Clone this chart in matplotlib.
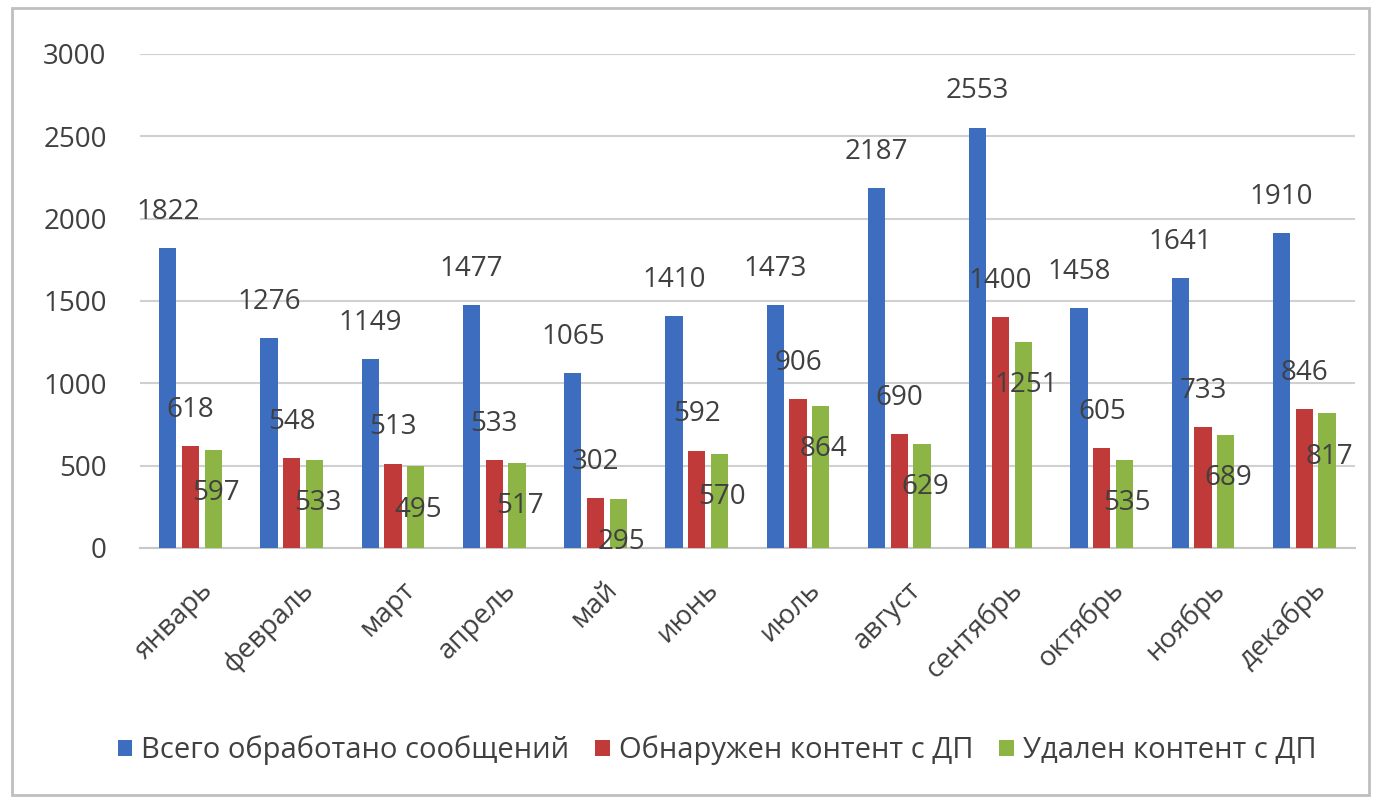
import matplotlib.pyplot as plt
import matplotlib.transforms as mtransforms
import numpy as np
from matplotlib.patches import Rectangle

##	Data
months = ["январь", "февраль", "март", "апрель", "май", "июнь",
          "июль", "август", "сентябрь", "октябрь", "ноябрь", "декабрь"]
total_msgs = [1822, 1276, 1149, 1477, 1065, 1410, 1473, 2187, 2553, 1458, 1641, 1910]
found_dp = [618, 548, 513, 533, 302, 592, 906, 690, 1400, 605, 733, 846]
removed_dp = [597, 533, 495, 517, 295, 570, 864, 629, 1251, 535, 689, 817]
series_names = ["Всего обработано сообщений", "Обнаружен контент с ДП", "Удален контент с ДП"]

plt.rcParams['font.family'] = ['Open Sans', 'DejaVu Sans']
txt_color = '#404040'
colors = ['#3C6DBF', '#BF3A38', '#8CB545']

fig = plt.figure(figsize=(13.79, 8), dpi=100)
# outer frame like the excel chart border
fig.patches.append(Rectangle((0.009, 0.006), 0.984, 0.984, transform=fig.transFigure,
                             fill=False, edgecolor='#BFBFBF', linewidth=2))
ax = fig.add_axes([0.1015, 0.315, 0.881, 0.6175])

x = np.arange(len(months))
w = 0.17
step = 0.225
b1 = ax.bar(x - step, total_msgs, w, color=colors[0], label=series_names[0], zorder=3)
b2 = ax.bar(x, found_dp, w, color=colors[1], label=series_names[1], zorder=3)
b3 = ax.bar(x + step, removed_dp, w, color=colors[2], label=series_names[2], zorder=3)

# value labels (placed like in the original)
for bars, vals, dy, dx in [(b1, total_msgs, 26, 0), (b2, found_dp, 26, 0), (b3, removed_dp, -31, 2)]:
    for r, v in zip(bars, vals):
        ax.annotate(str(v), (r.get_x() + r.get_width() / 2, v), xytext=(dx, dy),
                    textcoords='offset points', ha='center', va='center',
                    fontsize=20, color=txt_color, zorder=5)

ax.set_xlim(-0.5, len(months) - 0.5)
ax.set_ylim(0, 3000)
ax.set_yticks(range(0, 3001, 500))
ax.yaxis.grid(True, color='#D0D0D0', linewidth=1.5, zorder=0)
ax.set_axisbelow(True)
for s in ['top', 'right', 'left']:
    ax.spines[s].set_visible(False)
ax.spines['bottom'].set_color('#C8C8C8')
ax.spines['bottom'].set_linewidth(1.5)
ax.tick_params(axis='both', length=0, colors=txt_color, labelsize=20)
ax.tick_params(axis='y', pad=24)
ax.tick_params(axis='x', pad=20)
ax.set_xticks(x)
ax.set_xticklabels(months, rotation=45, ha='right', rotation_mode='anchor', fontsize=20)
shift = mtransforms.ScaledTranslation(8 / 100, 0, fig.dpi_scale_trans)
for lbl in ax.get_xticklabels():
    lbl.set_transform(lbl.get_transform() + shift)

fig.legend(handles=[b1, b2, b3], loc='center', bbox_to_anchor=(0.52, 0.062), ncol=3,
           frameon=False, fontsize=21, handlelength=0.5, handleheight=0.5,
           handletextpad=0.3, columnspacing=0.9, labelcolor=txt_color)

plt.savefig('out.png', dpi=100)
plt.close()
